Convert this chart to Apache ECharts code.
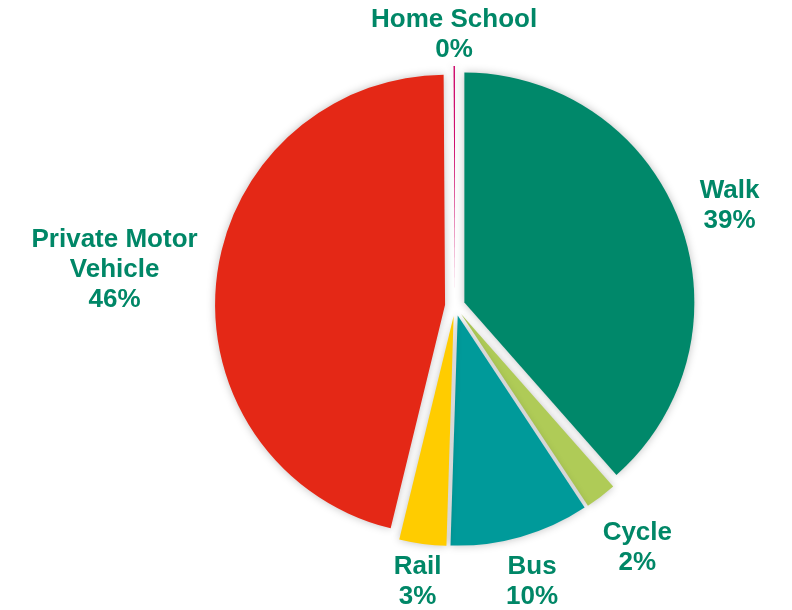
<!DOCTYPE html>
<html>
<head>
<meta charset="utf-8">
<script src="https://cdn.jsdelivr.net/npm/echarts@6/dist/echarts.min.js"></script>
<style>html,body{margin:0;padding:0;background:#fff}#c{width:792px;height:610px}</style>
</head>
<body>
<div id="c"></div>
<script>
var categories = ['Walk', 'Cycle', 'Bus', 'Rail', 'Private Motor\nVehicle', 'Home School'];
var values = [38.5, 2.2, 9.8, 3.3, 46.1, 0.1];
var colors = ['#00886A', '#AFCB57', '#009A9A', '#FFCC00', '#E42816', '#CC0066'];

var CX = 455, CY = 306, R = 230, OFFSET = 10, GAP = 15, MIN_GAP = 5;
var FONT_SIZE = 26, LINE_H = 30, LABEL_DY = 4;
var FONT = 'bold ' + FONT_SIZE + 'px "Liberation Sans", Arial, sans-serif';
var LABEL_COLOR = '#008767';
var TOP_LIMIT = 5, BOTTOM_LIMIT = 612;

var total = values.reduce(function (a, b) { return a + b; }, 0);
var ctx = document.createElement('canvas').getContext('2d');
ctx.font = FONT;

var labelTexts = categories.map(function (c, i) { return c + '\n' + Math.round(values[i]) + '%'; });
var graphics = [];
(function () {
  var cum = 0;
  for (var i = 0; i < values.length; i++) {
    var a = (cum + values[i] / 2) / total * Math.PI * 2;
    cum += values[i];
    var lines = labelTexts[i].split('\n');
    var w = 0;
    lines.forEach(function (l) { w = Math.max(w, ctx.measureText(l).width); });
    var h = lines.length * LINE_H;
    var ux = Math.sin(a), uy = -Math.cos(a);
    var ex = CX + ux * OFFSET, ey = CY + uy * OFFSET;
    var half = (Math.abs(ux) * w + Math.abs(uy) * h) / 2;
    var gap = GAP, x, y;
    for (;;) {
      var d = R + gap + half;
      x = ex + ux * d; y = ey + uy * d + LABEL_DY;
      if (y + h / 2 <= BOTTOM_LIMIT || gap <= MIN_GAP) break;
      gap -= 0.5;
    }
    y = Math.max(TOP_LIMIT + h / 2, Math.min(BOTTOM_LIMIT - h / 2, y));
    x = Math.max(3 + w / 2, Math.min(789 - w / 2, x));
    graphics.push({
      type: 'text',
      x: x, y: y,
      silent: true,
      style: {
        text: labelTexts[i],
        align: 'center',
        verticalAlign: 'middle',
        font: FONT,
        lineHeight: LINE_H,
        fill: LABEL_COLOR
      }
    });
  }
})();

var chart = echarts.init(document.getElementById('c'), null, {renderer: 'canvas'});
chart.setOption({
  animation: false,
  graphic: graphics,
  series: [{
    type: 'pie',
    center: [CX, CY],
    radius: [0, R],
    startAngle: 90,
    clockwise: true,
    selectedMode: 'multiple',
    selectedOffset: OFFSET,
    emphasis: {disabled: true},
    itemStyle: {
      borderWidth: 0,
      shadowBlur: 8,
      shadowColor: 'rgba(0,0,0,0.25)'
    },
    label: {show: false},
    labelLine: {show: false},
    data: categories.map(function (c, i) {
      return {name: c, value: values[i], selected: true, itemStyle: {color: colors[i]}};
    })
  }]
});
</script>
</body>
</html>
